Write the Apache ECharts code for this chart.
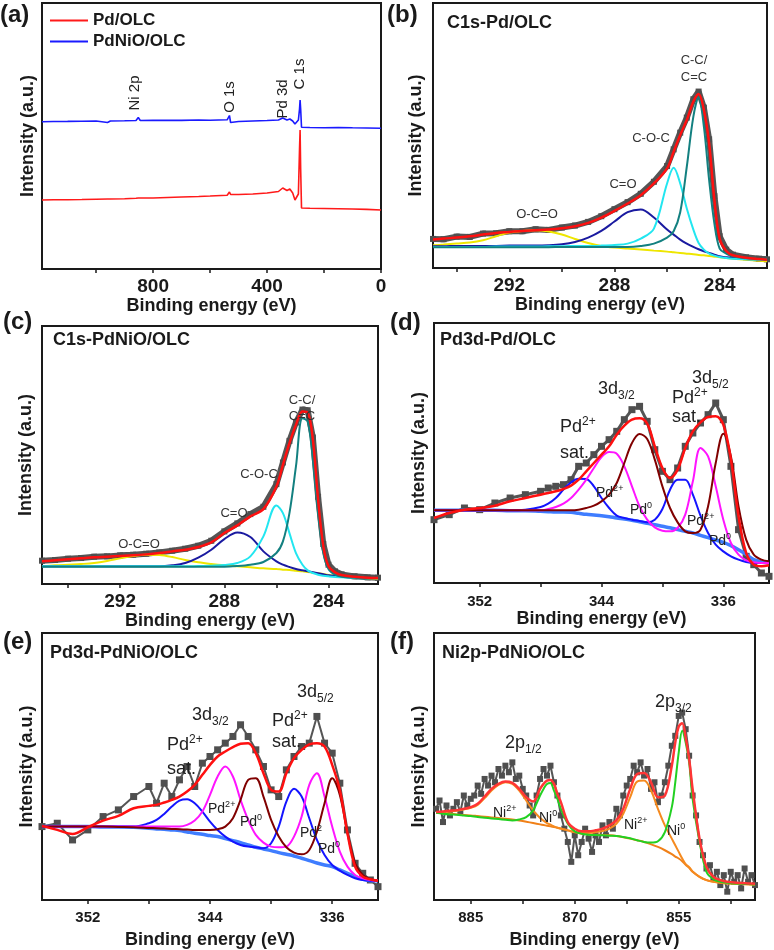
<!DOCTYPE html>
<html>
<head>
<meta charset="utf-8">
<script src="https://cdn.jsdelivr.net/npm/echarts@6/dist/echarts.min.js"></script>
<style>
  html, body { margin: 0; padding: 0; background: #fff; }
  #chart { width: 774px; height: 950px; }
</style>
</head>
<body>
<div id="chart"></div>
<script>
// ---- (a) survey spectra ----
const surveyEnergy = [1190, 1150, 1100, 1050, 1000, 960, 950, 900, 860, 852, 845, 800, 750, 700, 640, 636, 600, 540, 532, 528, 500, 450, 400, 360, 345, 340, 330, 320, 310, 302, 295, 290, 286, 284, 282, 279, 275, 250, 200, 150, 100, 50, 0];
const surveyPdNiO = [147.3, 147.5, 147.6, 147.8, 148.0, 146.5, 148, 148.2, 148.5, 151.5, 148.5, 148.6, 148.7, 148.6, 149, 150, 148.8, 149.2, 153.5, 146.5, 147.5, 148, 148.5, 149, 151, 149.5, 149, 150, 148, 145, 147, 149, 160, 169, 160, 141.7, 141.5, 141.5, 141.3, 141.5, 141.2, 141, 140.7];
const surveyPd = [69, 69.2, 69.3, 69.5, 69.8, 70, 70, 70.3, 70.8, 71, 70.8, 71, 71.5, 72, 72.5, 72.5, 73, 73.8, 77, 74.5, 74.5, 75, 76, 77.5, 81, 79, 78.5, 80, 76, 69, 70, 75, 120, 139, 100, 61, 60.8, 60.7, 60.5, 60.3, 60, 59.6, 59];

// ---- (b) C1s Pd/OLC ----
const bEnergy = [294.9, 294.5, 294, 293.5, 293, 292.5, 292, 291.5, 291, 290.5, 290, 289.5, 289, 288.5, 288, 287.5, 287, 286.5, 286, 285.75, 285.5, 285.25, 285, 284.8, 284.6, 284.4, 284.2, 284, 283.75, 283.5, 283, 282.5, 282.2];
const bCounts = [87, 86, 94, 93, 103, 104, 110, 110, 116, 114, 121, 127, 138, 155, 176, 197, 222, 258, 305, 355, 405, 450, 505, 528, 480, 385, 215, 95, 55, 40, 32, 28, 26];
const bEnvelope = [85, 88, 91, 95, 100, 105, 108, 111, 113, 115, 119, 125, 135, 151, 171, 193, 218, 253, 298, 348, 398, 443, 498, 521, 473, 373, 203, 88, 51, 38, 31, 27, 25];
const bOCO = [68, 70, 73, 76, 83, 95, 106, 111, 113, 109, 100, 87, 75, 66, 61, 58, 55, 52, 49, 47, 45, 43, 41, 39, 38, 36, 34, 32, 30, 28, 25, 22, 20];
const bCO = [65, 65, 66, 66, 66, 66, 67, 67, 67, 68, 71, 78, 91, 111, 139, 167, 175, 151, 115, 100, 85, 73, 63, 56, 50, 45, 40, 35, 32, 30, 27, 26, 25];
const bCOC = [63, 63, 63, 63, 63, 64, 64, 64, 64, 65, 65, 66, 66, 67, 69, 73, 88, 118, 253, 300, 253, 178, 115, 75, 55, 43, 37, 33, 30, 28, 26, 25, 25];
const bCC = [62, 62, 62, 62, 62, 62, 62, 62, 62, 62, 63, 63, 63, 63, 63, 63, 66, 73, 91, 110, 167, 303, 453, 511, 423, 263, 133, 58, 43, 35, 29, 26, 25];

// ---- (c) C1s PdNiO/OLC ----
const cEnergy = [295, 294.5, 294, 293.5, 293, 292.5, 292, 291.5, 291, 290.5, 290, 289.5, 289, 288.5, 288, 287.5, 287, 286.5, 286, 285.75, 285.5, 285.25, 285, 284.8, 284.6, 284.4, 284.2, 284, 283.75, 283.5, 283, 282.5, 282.1];
const cCounts = [70, 72, 76, 78, 82, 83, 86, 88, 91, 95, 100, 106, 115, 130, 158, 182, 210, 232, 300, 365, 430, 485, 524, 522, 440, 262, 120, 58, 38, 29, 23, 20, 19];
const cEnvelope = [68, 71, 74, 77, 80, 82, 84, 86, 89, 93, 98, 103, 111, 125, 153, 176, 203, 225, 293, 358, 423, 478, 518, 515, 433, 253, 113, 53, 35, 27, 22, 19, 18];
const cOCO = [53, 56, 58, 60, 63, 69, 77, 84, 88, 87, 81, 72, 65, 60, 56, 53, 50, 47, 45, 43, 42, 40, 38, 36, 34, 32, 30, 27, 25, 23, 20, 17, 15];
const cCO = [53, 53, 53, 53, 53, 53, 53, 53, 53, 53, 56, 63, 79, 103, 135, 155, 141, 98, 68, 58, 51, 45, 41, 38, 35, 32, 29, 26, 24, 22, 20, 18, 18];
const cCOC = [53, 53, 53, 53, 53, 53, 53, 53, 53, 53, 53, 53, 54, 55, 57, 63, 83, 143, 236, 213, 153, 93, 58, 41, 33, 28, 25, 23, 21, 20, 18, 17, 17];
const cCC = [52, 52, 52, 52, 52, 52, 52, 52, 52, 52, 52, 52, 52, 52, 52, 54, 58, 66, 93, 128, 213, 353, 498, 488, 373, 213, 93, 45, 28, 22, 19, 17, 17];

// ---- (d) Pd3d Pd/OLC ----
const dEnergy = [355, 354, 353, 352, 351, 350, 349, 348, 347.5, 347, 346.5, 346, 345.5, 345, 344.5, 344, 343.5, 343, 342.5, 342, 341.5, 341, 340.5, 340, 339.5, 339, 338.5, 338, 337.5, 337, 336.5, 336, 335.5, 335, 334.5, 334, 333.5, 333];
const dCounts = [190, 205, 225, 220, 240, 255, 265, 275, 285, 290, 295, 310, 350, 360, 385, 410, 430, 455, 490, 520, 530, 485, 400, 335, 310, 345, 410, 450, 480, 505, 540, 490, 350, 160, 80, 55, 30, 20];
const dEnvelope = [195, 210, 220, 225, 232, 245, 255, 265, 270, 275, 282, 292, 310, 335, 360, 385, 410, 445, 472, 490, 494, 478, 410, 345, 315, 340, 405, 455, 482, 498, 500, 475, 370, 200, 90, 55, 50, 53];
const dSat = [218, 218, 218, 218, 218, 218, 220, 228, 238, 255, 280, 302, 313, 312, 290, 255, 225, 202, 195, 190, 186, 182, 190, 222, 280, 310, 310, 265, 202, 150, 115, 95, 80, 70, 63, 60, 60, 60];
const dPd2 = [218, 218, 218, 218, 218, 218, 218, 218, 222, 228, 238, 255, 280, 310, 345, 378, 393, 388, 350, 290, 230, 190, 167, 157, 155, 165, 205, 305, 405, 380, 290, 190, 120, 85, 68, 62, 60, 60];
const dPd0 = [218, 218, 218, 218, 218, 218, 218, 218, 218, 218, 218, 218, 220, 225, 232, 245, 265, 300, 360, 420, 447, 432, 370, 290, 225, 182, 155, 150, 160, 230, 360, 448, 380, 230, 130, 85, 70, 65];
const dBackground = [218, 218, 218, 218, 218, 217, 217, 215, 214, 213, 213, 212, 209, 206, 204, 202, 199, 195, 192, 188, 184, 179, 175, 170, 166, 160, 155, 150, 143, 136, 129, 122, 112, 100, 86, 70, 63, 60];

// ---- (e) Pd3d PdNiO/OLC ----
const eEnergy = [355, 354, 353, 352, 351, 350, 349, 348, 347.5, 347, 346.5, 346, 345.5, 345, 344.5, 344, 343.5, 343, 342.5, 342, 341.5, 341, 340.5, 340, 339.5, 339, 338.5, 338, 337.5, 337, 336.5, 336, 335.5, 335, 334.5, 334, 333.5, 333];
const eCounts = [220, 230, 180, 210, 250, 270, 310, 340, 290, 350, 310, 360, 400, 340, 410, 430, 450, 470, 490, 525, 490, 450, 400, 330, 310, 390, 430, 460, 470, 550, 470, 440, 350, 210, 110, 80, 60, 40];
const eEnvelope = [222, 210, 198, 218, 238, 252, 275, 282, 285, 292, 300, 310, 325, 345, 375, 405, 430, 445, 458, 468, 470, 440, 380, 330, 325, 380, 425, 450, 466, 470, 460, 405, 330, 200, 100, 70, 62, 58];
const eSat = [220, 220, 220, 220, 220, 220, 220, 230, 240, 258, 280, 298, 302, 290, 265, 235, 210, 190, 175, 165, 160, 158, 155, 170, 220, 295, 333, 310, 245, 180, 135, 105, 88, 75, 65, 60, 58, 58];
const ePd2 = [220, 220, 220, 220, 220, 220, 220, 220, 220, 220, 220, 220, 225, 238, 265, 315, 370, 400, 370, 300, 240, 195, 172, 160, 158, 160, 190, 250, 345, 380, 310, 220, 145, 100, 75, 65, 60, 58];
const ePd0 = [220, 220, 220, 220, 220, 219, 218, 216, 215, 214, 213, 212, 211, 210, 210, 210, 212, 220, 245, 300, 360, 365, 310, 240, 190, 158, 142, 137, 150, 205, 290, 365, 315, 200, 110, 75, 62, 58];
const eBackground = [220, 220, 220, 220, 219, 219, 218, 215, 213, 212, 210, 208, 204, 200, 197, 193, 190, 184, 178, 172, 165, 158, 153, 148, 142, 137, 132, 125, 118, 111, 105, 100, 90, 80, 70, 62, 58, 58];

// ---- (f) Ni2p PdNiO/OLC ----
const fDataEnergy = [890, 889.5, 889, 888.5, 888, 887.5, 887, 886.5, 886, 885.5, 885, 884.5, 884, 883.5, 883, 882.5, 882, 881.5, 881, 880.5, 880, 879.5, 879, 878.5, 878, 877.5, 877, 876.5, 876, 875.5, 875, 874.5, 874, 873.5, 873, 872.5, 872, 871.5, 871, 870.5, 870, 869.5, 869, 868.5, 868, 867.5, 867, 866.5, 866, 865.5, 865, 864.5, 864, 863.5, 863, 862.5, 862, 861.5, 861, 860.5, 860, 859.5, 859, 858.5, 858, 857.5, 857, 856.5, 856, 855.5, 855, 854.5, 854, 853.5, 853, 852.5, 852, 851.5, 851, 850.5, 850, 849.5, 849, 848.5, 848, 847.5, 847, 846.5, 846, 845.5, 845, 844.5, 844];
const fCounts = [275, 300, 235, 285, 255, 275, 295, 265, 315, 285, 305, 315, 345, 320, 365, 345, 375, 355, 395, 375, 405, 385, 415, 365, 375, 335, 315, 285, 255, 315, 365, 395, 375, 405, 355, 315, 255, 215, 175, 115, 195, 135, 175, 215, 185, 145, 195, 175, 225, 195, 235, 215, 275, 255, 315, 345, 365, 405, 385, 415, 375, 395, 335, 355, 295, 315, 355, 405, 465, 495, 555, 565, 515, 435, 315, 255, 175, 135, 95, 105, 65, 85, 45, 75, 25, 85, 55, 75, 35, 95, 55, 75, 45];
const fEnergy = [890, 889, 888, 887, 886, 885, 884, 883, 882, 881, 880, 879, 878, 877, 876, 875, 874.5, 874, 873.5, 873, 872.5, 872, 871, 870, 869, 868, 867, 866, 865, 864, 863, 862, 861, 860, 859, 858, 857, 856, 855.5, 855, 854.5, 854, 853.5, 853, 852, 851, 850, 849, 848, 847, 846, 845, 844];
const fEnvelope = [265, 267, 269, 271, 275, 280, 290, 312, 335, 350, 357, 353, 335, 310, 297, 335, 350, 360, 362, 350, 320, 295, 235, 215, 207, 207, 210, 215, 225, 240, 275, 335, 380, 383, 355, 310, 315, 405, 475, 523, 533, 490, 425, 335, 185, 100, 70, 60, 55, 53, 51, 50, 49];
const fNi2 = [263, 265, 267, 269, 273, 278, 287, 307, 330, 347, 355, 350, 330, 300, 270, 247, 239, 232, 227, 222, 218, 215, 210, 205, 203, 203, 205, 208, 215, 230, 260, 310, 357, 360, 330, 275, 225, 185, 165, 145, 125, 108, 99, 86, 70, 60, 55, 52, 50, 49, 48, 47, 46];
const fNi0 = [263, 260, 258, 257, 255, 253, 250, 248, 246, 244, 242, 240, 243, 250, 270, 315, 335, 350, 353, 330, 305, 275, 230, 207, 200, 197, 196, 195, 194, 193, 190, 186, 180, 175, 173, 177, 205, 280, 355, 445, 510, 475, 415, 305, 175, 85, 63, 55, 52, 50, 49, 48, 47];
const fBackground = [263, 262, 260, 258, 256, 255, 253, 251, 249, 247, 245, 243, 240, 236, 232, 228, 226, 224, 222, 220, 218, 216, 210, 204, 200, 198, 197, 196, 195, 193, 189, 185, 180, 175, 168, 160, 150, 138, 131, 125, 117, 106, 97, 85, 70, 60, 55, 53, 51, 50, 49, 48, 47];

const FONT = '"Liberation Sans", Arial, Helvetica, sans-serif';
const INK = '#1a1a1a';

const chart = echarts.init(document.getElementById('chart'), null, { renderer: 'canvas' });

function zip(xs, ys) {
  return xs.map((x, i) => [x, ys[i]]);
}

// gray measured points drawn as squares joined by a line
function counts(gi, xs, ys, size, width) {
  return {
    type: 'line', xAxisIndex: gi, yAxisIndex: gi, data: zip(xs, ys),
    symbol: 'rect', symbolSize: size, showSymbol: true, showAllSymbol: true,
    itemStyle: { color: '#4f4f4f' }, lineStyle: { color: '#555', width: width || 2 },
    silent: true, z: 2
  };
}

function fit(gi, xs, ys, color, width, z) {
  return {
    type: 'line', xAxisIndex: gi, yAxisIndex: gi, data: zip(xs, ys),
    smooth: 0.35, symbol: 'none', lineStyle: { color, width: width || 2 },
    itemStyle: { color }, silent: true, z: z || 3
  };
}

// panel boxes
const boxes = [
  { left: 42, top: 3, width: 339, height: 266 },
  { left: 433, top: 3, width: 334, height: 265 },
  { left: 42, top: 326, width: 336, height: 258 },
  { left: 434, top: 323, width: 335, height: 260 },
  { left: 42, top: 633, width: 336, height: 267 },
  { left: 434, top: 633, width: 321, height: 269 }
];

const xSpecs = [
  { min: 0, max: 1190, ticks: [0, 200, 400, 600, 800, 1000], labels: [0, 400, 800], size: 19, margin: 8, gap: 24 },
  { min: 282.2, max: 294.9, ticks: [284, 286, 288, 290, 292, 294], labels: [284, 288, 292], size: 19, margin: 8, gap: 24 },
  { min: 282.1, max: 295, ticks: [284, 286, 288, 290, 292, 294], labels: [284, 288, 292], size: 19, margin: 8, gap: 26 },
  { min: 333, max: 355, ticks: [336, 340, 344, 348, 352], labels: [336, 344, 352], size: 15, margin: 11, gap: 27 },
  { min: 333, max: 355, ticks: [336, 340, 344, 348, 352], labels: [336, 344, 352], size: 15, margin: 10, gap: 31 },
  { min: 844, max: 890.3, ticks: [847.5, 855, 862.5, 870, 877.5, 885], labels: [855, 870, 885], size: 15, margin: 10, gap: 31 }
];
const yMax = [266, 793, 775, 780, 800, 805];
const yNameGap = [5, 8, 7, 6, 6, 6];

const grid = boxes.map(b => Object.assign({ show: true, borderColor: INK, borderWidth: 2, backgroundColor: 'transparent' }, b));

const xAxis = xSpecs.map((s, i) => ({
  type: 'value', gridIndex: i, inverse: true, min: s.min, max: s.max,
  axisLine: { show: true, lineStyle: { color: INK, width: 2 } },
  axisTick: { show: true, inside: false, length: 4, customValues: s.ticks, lineStyle: { color: INK, width: 1.5 } },
  axisLabel: { customValues: s.labels, fontSize: s.size, fontWeight: 'bold', fontFamily: FONT, color: INK, margin: s.margin },
  splitLine: { show: false },
  name: 'Binding energy (eV)', nameLocation: 'middle', nameGap: s.gap,
  nameTextStyle: { fontSize: 18, fontWeight: 'bold', fontFamily: FONT, color: INK }
}));

const yAxis = yMax.map((m, i) => ({
  type: 'value', gridIndex: i, min: 0, max: m,
  axisLine: { show: false }, axisTick: { show: false }, axisLabel: { show: false }, splitLine: { show: false },
  name: 'Intensity (a.u.)', nameLocation: 'middle', nameGap: yNameGap[i], nameRotate: 90,
  nameTextStyle: { fontSize: 18, fontWeight: 'bold', fontFamily: FONT, color: INK }
}));

const RED = '#ff1010';
const BASE = '#3f7dff';
const series = [
  // (a)
  { type: 'line', name: 'Pd/OLC', xAxisIndex: 0, yAxisIndex: 0, data: zip(surveyEnergy, surveyPd), symbol: 'none', lineStyle: { color: '#ff1a1a', width: 1.6 }, itemStyle: { color: '#ff1a1a' }, silent: true },
  { type: 'line', name: 'PdNiO/OLC', xAxisIndex: 0, yAxisIndex: 0, data: zip(surveyEnergy, surveyPdNiO), symbol: 'none', lineStyle: { color: '#1a1aff', width: 1.6 }, itemStyle: { color: '#1a1aff' }, silent: true },
  // (b)
  counts(1, bEnergy, bCounts, 6, 6),
  fit(1, bEnergy, bOCO, '#eee600'),
  fit(1, bEnergy, bCO, '#1a1aa0'),
  fit(1, bEnergy, bCOC, '#22e6f0'),
  fit(1, bEnergy, bCC, '#138080'),
  fit(1, bEnergy, bEnvelope, RED, 2.5, 4),
  // (c)
  counts(2, cEnergy, cCounts, 6, 6),
  fit(2, cEnergy, cOCO, '#eee600'),
  fit(2, cEnergy, cCO, '#1a1aa0'),
  fit(2, cEnergy, cCOC, '#22e6f0'),
  fit(2, cEnergy, cCC, '#138080'),
  fit(2, cEnergy, cEnvelope, RED, 2.5, 4),
  // (d)
  counts(3, dEnergy, dCounts, 7, 3),
  fit(3, dEnergy, dBackground, BASE, 3.5),
  fit(3, dEnergy, dSat, '#1414ff'),
  fit(3, dEnergy, dPd2, '#ff14ff'),
  fit(3, dEnergy, dPd0, '#800000'),
  fit(3, dEnergy, dEnvelope, RED, 2.5, 4),
  // (e)
  counts(4, eEnergy, eCounts, 7, 2),
  fit(4, eEnergy, eBackground, BASE, 3.5),
  fit(4, eEnergy, eSat, '#1414ff'),
  fit(4, eEnergy, ePd2, '#ff14ff'),
  fit(4, eEnergy, ePd0, '#800000'),
  fit(4, eEnergy, eEnvelope, RED, 2.5, 4),
  // (f)
  counts(5, fDataEnergy, fCounts, 6, 2),
  fit(5, fEnergy, fBackground, '#f08018'),
  fit(5, fEnergy, fNi2, '#f58a1f'),
  fit(5, fEnergy, fNi0, '#22d022'),
  fit(5, fEnergy, fEnvelope, '#ff3535', 2.5, 4)
];

// text helpers
function txt(x, y, text, size, extra) {
  return {
    type: 'text', x, y, silent: true, z: 100,
    style: Object.assign({ text, fontSize: size, fontFamily: FONT, fill: INK, verticalAlign: 'middle', align: 'left' }, extra || {})
  };
}
function rotTxt(x, y, text) {
  return {
    type: 'text', x, y, rotation: Math.PI / 2, silent: true, z: 100,
    style: { text, fontSize: 15, fontFamily: FONT, fill: '#222', align: 'center', verticalAlign: 'middle' }
  };
}
function sup(x, y, base, s, size) {
  const small = Math.round(size * 0.66);
  return {
    type: 'text', x, y, silent: true, z: 100,
    style: {
      text: '{b|' + base + '}{s|' + s + '}', verticalAlign: 'middle', align: 'left',
      rich: {
        b: { fontSize: size, fontFamily: FONT, fill: '#222', lineHeight: size + 4 },
        s: { fontSize: small, fontFamily: FONT, fill: '#222', lineHeight: small, verticalAlign: 'top' }
      }
    }
  };
}
function sub(x, y, base, s, size) {
  const small = Math.round(size * 0.66);
  return {
    type: 'text', x, y, silent: true, z: 100,
    style: {
      text: '{b|' + base + '}{s|' + s + '}', verticalAlign: 'middle', align: 'left',
      rich: {
        b: { fontSize: size, fontFamily: FONT, fill: '#222', lineHeight: size + 8 },
        s: { fontSize: small, fontFamily: FONT, fill: '#222', lineHeight: small, verticalAlign: 'bottom' }
      }
    }
  };
}
const bold = { fontWeight: 'bold' };
const gray = { fill: '#333', align: 'center' };

const graphic = [
  // panel letters
  txt(0, 15, '(a)', 24, bold), txt(387, 15, '(b)', 24, bold),
  txt(3, 322, '(c)', 24, bold), txt(390, 323, '(d)', 24, bold),
  txt(3, 642, '(e)', 24, bold), txt(390, 642, '(f)', 24, bold),
  // panel titles
  txt(447, 23, 'C1s-Pd/OLC', 18, bold),
  txt(53, 340, 'C1s-PdNiO/OLC', 18, bold),
  txt(440, 340, 'Pd3d-Pd/OLC', 18, bold),
  txt(50, 653, 'Pd3d-PdNiO/OLC', 18, bold),
  txt(442, 653, 'Ni2p-PdNiO/OLC', 18, bold),
  // (a) peak names
  rotTxt(135, 93, 'Ni 2p'), rotTxt(230, 97, 'O 1s'), rotTxt(283, 99, 'Pd 3d'), rotTxt(300, 74, 'C 1s'),
  // (b)
  txt(694, 60, 'C-C/', 13, gray), txt(694, 77, 'C=C', 13, gray),
  txt(651, 138, 'C-O-C', 13, gray), txt(623, 184, 'C=O', 13, gray), txt(537, 214, 'O-C=O', 13, gray),
  // (c)
  txt(302, 400, 'C-C/', 13, gray), txt(302, 416, 'C=C', 13, gray),
  txt(259, 474, 'C-O-C', 13, gray), txt(234, 513, 'C=O', 13, gray), txt(139, 544, 'O-C=O', 13, gray),
  // (d)
  sub(598, 389, '3d', '3/2', 18), sub(692, 378, '3d', '5/2', 18),
  sup(560, 427, 'Pd', '2+', 18), txt(560, 453, 'sat.', 18, { fill: '#222' }),
  sup(672, 398, 'Pd', '2+', 18), txt(672, 417, 'sat.', 18, { fill: '#222' }),
  sup(596, 493, 'Pd', '2+', 14), sup(630, 510, 'Pd', '0', 14),
  sup(687, 521, 'Pd', '2+', 14), sup(709, 541, 'Pd', '0', 14),
  // (e)
  sub(192, 715, '3d', '3/2', 18), sub(297, 692, '3d', '5/2', 18),
  sup(167, 745, 'Pd', '2+', 18), txt(167, 769, 'sat.', 18, { fill: '#222' }),
  sup(272, 721, 'Pd', '2+', 18), txt(272, 742, 'sat.', 18, { fill: '#222' }),
  sup(208, 809, 'Pd', '2+', 14), sup(240, 822, 'Pd', '0', 14),
  sup(300, 833, 'Pd', '2', 14), sup(318, 849, 'Pd', '0', 14),
  // (f)
  sub(505, 743, '2p', '1/2', 18), sub(655, 702, '2p', '3/2', 18),
  sup(493, 813, 'Ni', '2+', 14), sup(539, 818, 'Ni', '0', 14),
  sup(624, 825, 'Ni', '2+', 14), sup(667, 831, 'Ni', '0', 14)
];

chart.setOption({
  animation: false,
  backgroundColor: '#fff',
  textStyle: { fontFamily: FONT },
  legend: {
    data: ['Pd/OLC', 'PdNiO/OLC'], orient: 'vertical', left: 45, top: 7,
    itemWidth: 38, itemHeight: 2, itemGap: 4, icon: 'rect',
    textStyle: { fontSize: 17, fontWeight: 'bold', fontFamily: FONT, color: INK }
  },
  grid, xAxis, yAxis, series, graphic
});
</script>
</body>
</html>
